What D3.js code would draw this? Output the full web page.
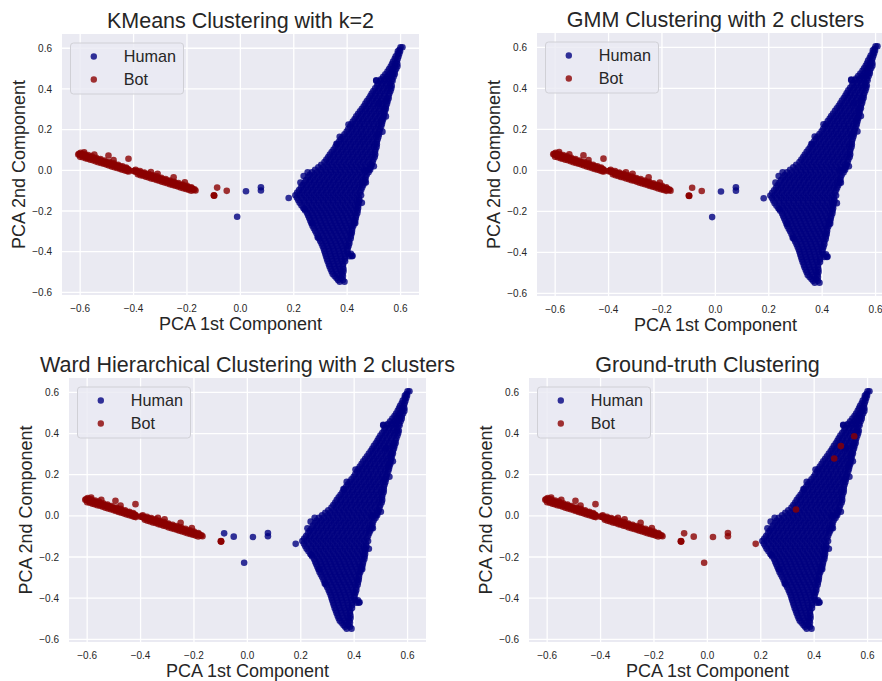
<!DOCTYPE html>
<html>
<head>
<meta charset="utf-8">
<script src="https://cdnjs.cloudflare.com/ajax/libs/d3/7.8.5/d3.min.js"></script>
<style>
  body { margin: 0; background: #fff; }
  svg { display: block; font-family: "Liberation Sans", Arial, sans-serif; }
</style>
</head>
<body>
<svg id="chart" width="882" height="681"></svg>
<script>
// legend categories
const categories = ['Human', 'Bot'];
const tickValues = [-0.6, -0.4, -0.2, 0.0, 0.2, 0.4, 0.6];

// red streak on the left (PCA1, PCA2)
const botStreak = [
    [-0.607, 0.078], [-0.600, 0.076], [-0.594, 0.074], [-0.588, 0.071], [-0.581, 0.068], [-0.574, 0.066],
    [-0.566, 0.062], [-0.558, 0.059], [-0.550, 0.056], [-0.542, 0.052], [-0.534, 0.049], [-0.526, 0.046],
    [-0.518, 0.042], [-0.510, 0.039], [-0.502, 0.036], [-0.494, 0.032], [-0.486, 0.029], [-0.478, 0.026],
    [-0.470, 0.022], [-0.462, 0.019], [-0.454, 0.016], [-0.446, 0.012], [-0.438, 0.009], [-0.430, 0.006],
    [-0.422, 0.003], [-0.417, 0.000],
    [-0.604, 0.081], [-0.597, 0.079], [-0.591, 0.076], [-0.584, 0.073], [-0.577, 0.071], [-0.570, 0.068],
    [-0.562, 0.064], [-0.554, 0.061], [-0.546, 0.058], [-0.538, 0.054], [-0.530, 0.051], [-0.522, 0.048],
    [-0.514, 0.044], [-0.506, 0.041], [-0.498, 0.038], [-0.490, 0.034], [-0.482, 0.031], [-0.474, 0.028],
    [-0.466, 0.024], [-0.458, 0.021], [-0.450, 0.018], [-0.442, 0.014], [-0.434, 0.011], [-0.426, 0.008],
    [-0.420, 0.005],
    [-0.598, 0.086], [-0.585, 0.081], [-0.570, 0.075], [-0.556, 0.069], [-0.540, 0.061], [-0.524, 0.055],
    [-0.508, 0.048], [-0.490, 0.040], [-0.474, 0.034], [-0.458, 0.027], [-0.442, 0.020], [-0.428, 0.014],
    [-0.590, 0.064], [-0.572, 0.057], [-0.552, 0.049], [-0.532, 0.040], [-0.512, 0.032], [-0.492, 0.024],
    [-0.472, 0.015], [-0.452, 0.007], [-0.432, -0.001], [-0.418, -0.006],
    [-0.600, 0.066], [-0.580, 0.059], [-0.562, 0.052], [-0.542, 0.044], [-0.522, 0.036], [-0.502, 0.028],
    [-0.482, 0.019], [-0.462, 0.011], [-0.442, 0.003], [-0.424, -0.004],
    [-0.585, 0.089], [-0.547, 0.078], [-0.494, 0.073], [-0.475, 0.050], [-0.419, 0.057],
    [-0.400, -0.004], [-0.392, -0.007], [-0.384, -0.011], [-0.376, -0.014], [-0.368, -0.017], [-0.360, -0.020],
    [-0.352, -0.024], [-0.344, -0.027], [-0.336, -0.030], [-0.328, -0.034], [-0.320, -0.037], [-0.312, -0.040],
    [-0.304, -0.043], [-0.296, -0.047], [-0.288, -0.050], [-0.280, -0.053], [-0.272, -0.056], [-0.264, -0.060],
    [-0.256, -0.063], [-0.248, -0.066], [-0.240, -0.070], [-0.232, -0.073], [-0.224, -0.076], [-0.216, -0.079],
    [-0.208, -0.083], [-0.200, -0.086], [-0.192, -0.089], [-0.184, -0.092], [-0.176, -0.096], [-0.168, -0.099],
    [-0.396, -0.002], [-0.388, -0.005], [-0.380, -0.009], [-0.372, -0.012], [-0.364, -0.015], [-0.356, -0.018],
    [-0.348, -0.022], [-0.340, -0.025], [-0.332, -0.028], [-0.324, -0.032], [-0.316, -0.035], [-0.308, -0.038],
    [-0.300, -0.041], [-0.292, -0.045], [-0.284, -0.048], [-0.276, -0.051], [-0.268, -0.054], [-0.260, -0.058],
    [-0.252, -0.061], [-0.244, -0.064], [-0.236, -0.068], [-0.228, -0.071], [-0.220, -0.074], [-0.212, -0.077],
    [-0.204, -0.081], [-0.196, -0.084], [-0.188, -0.087], [-0.180, -0.090], [-0.172, -0.094],
    [-0.392, 0.003], [-0.376, -0.004], [-0.360, -0.011], [-0.344, -0.017], [-0.328, -0.024], [-0.312, -0.030],
    [-0.296, -0.037], [-0.280, -0.043], [-0.264, -0.050], [-0.248, -0.056], [-0.232, -0.063], [-0.216, -0.070],
    [-0.200, -0.076], [-0.184, -0.083],
    [-0.384, -0.019], [-0.364, -0.027], [-0.344, -0.035], [-0.324, -0.043], [-0.304, -0.051], [-0.284, -0.060],
    [-0.264, -0.068], [-0.244, -0.076], [-0.224, -0.084], [-0.204, -0.092], [-0.184, -0.100],
    [-0.374, -0.024], [-0.354, -0.032], [-0.334, -0.040], [-0.314, -0.048], [-0.294, -0.056], [-0.274, -0.064],
    [-0.254, -0.072], [-0.234, -0.080], [-0.214, -0.088], [-0.194, -0.096],
    [-0.335, -0.009], [-0.310, -0.017], [-0.250, -0.034], [-0.208, -0.059]
];

// the few points between the two groups
const gapPoints = [
    [-0.099, -0.124], [-0.099, -0.123], [-0.098, -0.125], [-0.087, -0.085], [-0.051, -0.101],
    [-0.012, -0.228], [0.021, -0.103], [0.077, -0.083], [0.077, -0.099], [0.181, -0.136]
];

// the big triangle, read row by row: [PCA2, [PCA1 values]]
const clusterRows = [
    [0.605, [0.607, 0.600]],
    [0.585, [0.590, 0.598]],
    [0.560, [0.582, 0.592]],
    [0.535, [0.572, 0.586]],
    [0.510, [0.563, 0.578, 0.588]],
    [0.485, [0.551, 0.566, 0.578]],
    [0.460, [0.535, 0.550, 0.563, 0.574]],
    [0.440, [0.509, 0.524, 0.540, 0.556, 0.570]],
    [0.415, [0.512, 0.528, 0.545, 0.560, 0.567]],
    [0.390, [0.498, 0.515, 0.532, 0.549, 0.562]],
    [0.365, [0.487, 0.504, 0.521, 0.538, 0.555]],
    [0.340, [0.474, 0.492, 0.509, 0.527, 0.544, 0.551]],
    [0.315, [0.462, 0.479, 0.497, 0.514, 0.531, 0.545]],
    [0.290, [0.448, 0.466, 0.483, 0.501, 0.518, 0.535, 0.541]],
    [0.265, [0.434, 0.452, 0.469, 0.487, 0.504, 0.521, 0.536]],
    [0.240, [0.421, 0.439, 0.456, 0.474, 0.491, 0.509, 0.526, 0.532]],
    [0.215, [0.411, 0.428, 0.446, 0.463, 0.481, 0.498, 0.516, 0.527]],
    [0.190, [0.398, 0.416, 0.434, 0.451, 0.469, 0.487, 0.504, 0.520]],
    [0.165, [0.372, 0.383, 0.401, 0.419, 0.437, 0.455, 0.472, 0.490, 0.508, 0.517]],
    [0.140, [0.369, 0.387, 0.405, 0.423, 0.441, 0.458, 0.476, 0.494, 0.511]],
    [0.115, [0.356, 0.374, 0.392, 0.410, 0.428, 0.446, 0.464, 0.482, 0.500, 0.510]],
    [0.090, [0.342, 0.360, 0.378, 0.396, 0.414, 0.432, 0.450, 0.468, 0.486, 0.504]],
    [0.065, [0.329, 0.347, 0.365, 0.383, 0.401, 0.419, 0.437, 0.455, 0.473, 0.491, 0.503]],
    [0.040, [0.315, 0.333, 0.351, 0.369, 0.387, 0.405, 0.423, 0.441, 0.459, 0.477, 0.495]],
    [0.015, [0.292, 0.310, 0.328, 0.346, 0.364, 0.382, 0.400, 0.418, 0.436, 0.454, 0.472, 0.488]],
    [-0.010, [0.252, 0.268, 0.286, 0.304, 0.322, 0.340, 0.358, 0.376, 0.394, 0.412, 0.430, 0.448, 0.466, 0.480]],
    [-0.035, [0.253, 0.271, 0.289, 0.307, 0.325, 0.343, 0.361, 0.379, 0.397, 0.415, 0.433, 0.451, 0.469]],
    [-0.060, [0.240, 0.258, 0.276, 0.294, 0.312, 0.330, 0.348, 0.366, 0.384, 0.402, 0.420, 0.438, 0.456, 0.465]],
    [-0.085, [0.227, 0.245, 0.263, 0.281, 0.299, 0.317, 0.335, 0.353, 0.371, 0.389, 0.407, 0.425, 0.443, 0.456]],
    [-0.110, [0.213, 0.231, 0.249, 0.267, 0.285, 0.303, 0.321, 0.339, 0.357, 0.375, 0.393, 0.411, 0.429, 0.447]],
    [-0.135, [0.212, 0.229, 0.247, 0.265, 0.283, 0.301, 0.319, 0.337, 0.355, 0.373, 0.391, 0.409, 0.427, 0.444]],
    [-0.160, [0.222, 0.240, 0.258, 0.276, 0.294, 0.312, 0.330, 0.348, 0.366, 0.384, 0.402, 0.420, 0.438, 0.443]],
    [-0.185, [0.236, 0.254, 0.272, 0.290, 0.308, 0.326, 0.344, 0.362, 0.380, 0.398, 0.416, 0.434, 0.441]],
    [-0.210, [0.250, 0.267, 0.285, 0.303, 0.321, 0.339, 0.357, 0.375, 0.393, 0.411, 0.429, 0.438]],
    [-0.235, [0.258, 0.276, 0.294, 0.312, 0.330, 0.348, 0.366, 0.384, 0.402, 0.420, 0.432]],
    [-0.260, [0.266, 0.284, 0.302, 0.320, 0.338, 0.356, 0.374, 0.392, 0.410, 0.426]],
    [-0.285, [0.275, 0.293, 0.311, 0.329, 0.347, 0.365, 0.383, 0.401, 0.419]],
    [-0.310, [0.285, 0.303, 0.321, 0.339, 0.357, 0.375, 0.393, 0.411, 0.417]],
    [-0.335, [0.295, 0.313, 0.331, 0.349, 0.367, 0.385, 0.403, 0.413]],
    [-0.360, [0.304, 0.322, 0.340, 0.358, 0.376, 0.394, 0.408]],
    [-0.385, [0.312, 0.330, 0.348, 0.366, 0.384, 0.402]],
    [-0.410, [0.318, 0.336, 0.354, 0.372, 0.390, 0.404, 0.414]],
    [-0.435, [0.324, 0.342, 0.360, 0.378, 0.392]],
    [-0.460, [0.331, 0.349, 0.367, 0.385]],
    [-0.485, [0.338, 0.356, 0.374, 0.386]],
    [-0.510, [0.346, 0.364, 0.382]],
    [-0.530, [0.360, 0.378]],
    [-0.548, [0.372, 0.390]]
];

// second pass over the triangle, between the rows above
const clusterRowsB = [
    [0.5925, [0.596]],
    [0.5725, [0.589, 0.595]],
    [0.5475, [0.578, 0.589]],
    [0.5225, [0.568, 0.580, 0.588]],
    [0.4975, [0.557, 0.571, 0.583]],
    [0.4725, [0.543, 0.558, 0.571, 0.578]],
    [0.4475, [0.527, 0.542, 0.556, 0.568]],
    [0.4275, [0.516, 0.532, 0.548, 0.563]],
    [0.4025, [0.505, 0.520, 0.537, 0.553, 0.565]],
    [0.3775, [0.492, 0.507, 0.524, 0.541, 0.558]],
    [0.3525, [0.481, 0.497, 0.514, 0.531, 0.548, 0.555]],
    [0.3275, [0.468, 0.484, 0.501, 0.518, 0.535, 0.549]],
    [0.3025, [0.455, 0.471, 0.488, 0.506, 0.523, 0.539, 0.545]],
    [0.2775, [0.441, 0.458, 0.475, 0.492, 0.510, 0.527, 0.539]],
    [0.2525, [0.428, 0.444, 0.461, 0.478, 0.496, 0.513, 0.530, 0.535]],
    [0.2275, [0.416, 0.431, 0.448, 0.465, 0.483, 0.500, 0.518, 0.530]],
    [0.2025, [0.404, 0.420, 0.437, 0.455, 0.472, 0.490, 0.507, 0.523]],
    [0.1775, [0.390, 0.407, 0.425, 0.443, 0.460, 0.478, 0.496, 0.512, 0.519]],
    [0.1525, [0.376, 0.392, 0.410, 0.428, 0.446, 0.464, 0.481, 0.499, 0.514]],
    [0.1275, [0.362, 0.378, 0.396, 0.414, 0.432, 0.450, 0.467, 0.485, 0.503, 0.511]],
    [0.1025, [0.349, 0.365, 0.383, 0.401, 0.419, 0.437, 0.455, 0.473, 0.491, 0.506]],
    [0.0775, [0.335, 0.351, 0.369, 0.387, 0.405, 0.423, 0.441, 0.459, 0.477, 0.495, 0.505]],
    [0.0525, [0.322, 0.338, 0.356, 0.374, 0.392, 0.410, 0.428, 0.446, 0.464, 0.482, 0.498]],
    [0.0275, [0.303, 0.324, 0.342, 0.360, 0.378, 0.396, 0.414, 0.432, 0.450, 0.468, 0.486, 0.492]],
    [0.0025, [0.280, 0.301, 0.319, 0.337, 0.355, 0.373, 0.391, 0.409, 0.427, 0.445, 0.463, 0.480, 0.486]],
    [-0.0225, [0.260, 0.277, 0.295, 0.313, 0.331, 0.349, 0.367, 0.385, 0.403, 0.421, 0.439, 0.457, 0.473]],
    [-0.0475, [0.246, 0.262, 0.280, 0.298, 0.316, 0.334, 0.352, 0.370, 0.388, 0.406, 0.424, 0.442, 0.460, 0.468]],
    [-0.0725, [0.233, 0.249, 0.267, 0.285, 0.303, 0.321, 0.339, 0.357, 0.375, 0.393, 0.411, 0.429, 0.447, 0.460]],
    [-0.0975, [0.220, 0.236, 0.254, 0.272, 0.290, 0.308, 0.326, 0.344, 0.362, 0.380, 0.398, 0.416, 0.434, 0.452]],
    [-0.1225, [0.206, 0.222, 0.240, 0.258, 0.276, 0.294, 0.312, 0.330, 0.348, 0.366, 0.384, 0.402, 0.420, 0.438, 0.452]],
    [-0.1475, [0.217, 0.238, 0.256, 0.274, 0.292, 0.310, 0.328, 0.346, 0.364, 0.382, 0.400, 0.418, 0.436, 0.446]],
    [-0.1725, [0.229, 0.249, 0.267, 0.285, 0.303, 0.321, 0.339, 0.357, 0.375, 0.393, 0.411, 0.429, 0.441]],
    [-0.1975, [0.243, 0.261, 0.279, 0.297, 0.315, 0.333, 0.351, 0.369, 0.387, 0.405, 0.423, 0.439]],
    [-0.2225, [0.254, 0.272, 0.290, 0.308, 0.326, 0.344, 0.362, 0.380, 0.398, 0.416, 0.434]],
    [-0.2475, [0.262, 0.280, 0.298, 0.316, 0.334, 0.352, 0.370, 0.388, 0.406, 0.424, 0.430]],
    [-0.2725, [0.270, 0.289, 0.307, 0.325, 0.343, 0.361, 0.379, 0.397, 0.415, 0.423]],
    [-0.2975, [0.280, 0.298, 0.316, 0.334, 0.352, 0.370, 0.388, 0.406, 0.418]],
    [-0.3225, [0.290, 0.308, 0.326, 0.344, 0.362, 0.380, 0.398, 0.414]],
    [-0.3475, [0.299, 0.318, 0.336, 0.354, 0.372, 0.390, 0.408]],
    [-0.3725, [0.308, 0.326, 0.344, 0.362, 0.380, 0.398, 0.405]],
    [-0.3975, [0.315, 0.333, 0.351, 0.369, 0.387, 0.400]],
    [-0.4225, [0.321, 0.339, 0.357, 0.375, 0.393, 0.409, 0.418]],
    [-0.4475, [0.327, 0.345, 0.363, 0.381, 0.392]],
    [-0.4725, [0.334, 0.352, 0.370, 0.384]],
    [-0.4975, [0.342, 0.360, 0.378, 0.386]],
    [-0.5200, [0.353, 0.371, 0.384]],
    [-0.5390, [0.366, 0.384]]
];

// loose points sticking out of the triangle edges
const clusterStragglers = [
    [0.545, 0.265], [0.532, 0.190], [0.500, 0.020], [0.470, -0.060], [0.455, -0.160], [0.430, -0.260],
    [0.420, -0.420], [0.240, -0.190], [0.270, -0.260], [0.405, 0.225], [0.360, 0.130], [0.509, 0.443],
    [0.237, -0.028], [0.225, -0.060], [0.290, -0.330], [0.520, 0.330], [0.468, 0.000]
];

// bots hidden inside the human triangle (ground truth only)
const truthBotsInCluster = [[0.550, 0.387], [0.500, 0.339], [0.475, 0.279], [0.332, 0.031]];

// label of each gap point for each method
const kmeansGapLabels = ['Bot', 'Bot', 'Bot', 'Bot', 'Bot', 'Human', 'Human', 'Human', 'Human', 'Human'];
const gmmGapLabels = ['Bot', 'Bot', 'Bot', 'Bot', 'Bot', 'Human', 'Human', 'Human', 'Human', 'Human'];
const wardGapLabels = ['Bot', 'Bot', 'Bot', 'Human', 'Human', 'Human', 'Human', 'Human', 'Human', 'Human'];
const truthGapLabels = ['Bot', 'Bot', 'Bot', 'Bot', 'Bot', 'Bot', 'Bot', 'Bot', 'Bot', 'Bot'];

const titles = ['KMeans Clustering with k=2', 'GMM Clustering with 2 clusters',
    'Ward Hierarchical Clustering with 2 clusters', 'Ground-truth Clustering'];

// panel layout
const panels = [
    {title: titles[0], left: 62, top: 34, width: 357, height: 261, gapLabels: kmeansGapLabels, extraBots: []},
    {title: titles[1], left: 537, top: 33, width: 357, height: 263, gapLabels: gmmGapLabels, extraBots: []},
    {title: titles[2], left: 69, top: 378, width: 357, height: 264, gapLabels: wardGapLabels, extraBots: []},
    {title: titles[3], left: 529, top: 378, width: 357, height: 264, gapLabels: truthGapLabels, extraBots: truthBotsInCluster}
];

const colors = {Human: '#000080', Bot: '#8b0000'};
const textColor = '#262626';

const svg = d3.select('#chart');

// flatten the triangle rows into points
const clusterPoints = [];
clusterRows.concat(clusterRowsB).forEach(([y, xs]) => xs.forEach((x) => clusterPoints.push([x, y])));
clusterStragglers.forEach((pt) => clusterPoints.push(pt));

const drawPanel = (p) => {
    const x = d3.scaleLinear().domain([-0.668, 0.669]).range([0, p.width]);
    const y = d3.scaleLinear().domain([-0.613, 0.670]).range([p.height, 0]);
    const g = svg.append('g').attr('transform', 'translate(' + p.left + ',' + p.top + ')');

    g.append('rect').attr('width', p.width).attr('height', p.height).attr('fill', '#eaeaf2');

    // white grid
    g.selectAll('.vgrid').data(tickValues).enter().append('line')
        .attr('x1', (d) => x(d)).attr('x2', (d) => x(d))
        .attr('y1', 0).attr('y2', p.height)
        .attr('stroke', '#fff').attr('stroke-width', 1.3);
    g.selectAll('.hgrid').data(tickValues).enter().append('line')
        .attr('y1', (d) => y(d)).attr('y2', (d) => y(d))
        .attr('x1', 0).attr('x2', p.width)
        .attr('stroke', '#fff').attr('stroke-width', 1.3);

    // tick labels
    const fmt = d3.format('.1f');
    g.selectAll('.xt').data(tickValues).enter().append('text')
        .attr('x', (d) => x(d)).attr('y', p.height + 16.8)
        .attr('text-anchor', 'middle').attr('font-size', 10).attr('fill', textColor)
        .text((d) => fmt(d));
    g.selectAll('.yt').data(tickValues).enter().append('text')
        .attr('x', -10).attr('y', (d) => y(d) + 3.6)
        .attr('text-anchor', 'end').attr('font-size', 10).attr('fill', textColor)
        .text((d) => fmt(d));

    // split points into the two labels
    const humans = clusterPoints.slice();
    const bots = botStreak.slice();
    gapPoints.forEach((pt, i) => (p.gapLabels[i] === 'Human' ? humans : bots).push(pt));
    p.extraBots.forEach((pt) => bots.push(pt));

    [['Human', humans], ['Bot', bots]].forEach(([label, pts]) => {
        g.append('g').selectAll('circle').data(pts).enter().append('circle')
            .attr('cx', (d) => x(d[0])).attr('cy', (d) => y(d[1]))
            .attr('r', 3.3)
            .attr('fill', colors[label]).attr('fill-opacity', 0.8);
    });

    // legend
    const lg = g.append('g').attr('transform', 'translate(8.5,9)');
    lg.append('rect').attr('width', 113).attr('height', 51).attr('rx', 3)
        .attr('fill', '#eaeaf2').attr('fill-opacity', 0.8)
        .attr('stroke', '#d0d0d6').attr('stroke-width', 1);
    categories.forEach((c, i) => {
        const cy = 13.5 + i * 23;
        lg.append('circle').attr('cx', 23.3).attr('cy', cy).attr('r', 3.2)
            .attr('fill', colors[c]).attr('fill-opacity', 0.8);
        lg.append('text').attr('x', 53.3).attr('y', cy + 5.6)
            .attr('font-size', 16.2).attr('fill', textColor).text(c);
    });

    // title and axis labels
    g.append('text').attr('x', p.width / 2).attr('y', -6.3)
        .attr('text-anchor', 'middle').attr('font-size', 21.5).attr('fill', textColor)
        .text(p.title);
    g.append('text').attr('x', p.width / 2).attr('y', p.height + 35)
        .attr('text-anchor', 'middle').attr('font-size', 18).attr('fill', textColor)
        .text('PCA 1st Component');
    g.append('text')
        .attr('transform', 'translate(-36.8,' + (p.height / 2) + ') rotate(-90)')
        .attr('text-anchor', 'middle').attr('font-size', 18).attr('fill', textColor)
        .text('PCA 2nd Component');
};

panels.forEach(drawPanel);
</script>
</body>
</html>
